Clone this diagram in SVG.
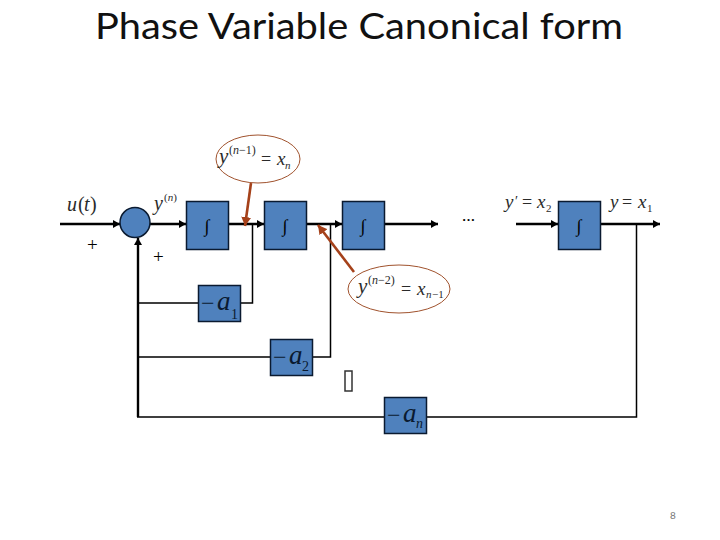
<svg xmlns="http://www.w3.org/2000/svg" width="720" height="540" viewBox="0 0 720 540">
<style>
.b{fill:#4f81bd;stroke:#0a1a30;stroke-width:1.5}
.m{font-family:"Liberation Serif",serif;font-style:italic;fill:#2a2a2a}
.n{font-family:"Liberation Serif",serif;fill:#2a2a2a}
.i{font-family:"Liberation Serif",serif;fill:#000;font-size:18px;text-anchor:middle}
.g{font-family:"Liberation Serif",serif;font-style:italic;fill:#0a1a30}
.gn{font-family:"Liberation Serif",serif;fill:#0a1a30}
.p{font-family:"Liberation Serif",serif;font-size:19px;fill:#000}
.w{fill:none;stroke:#000;stroke-width:2.4}
.t{fill:none;stroke:#000;stroke-width:1.5}
.o{fill:none;stroke:#a0522d;stroke-width:1}
.r{fill:none;stroke:#a5411a;stroke-width:2.6}
</style>
<defs>
<marker id="a" markerUnits="userSpaceOnUse" markerWidth="8" markerHeight="8" refX="7" refY="4" orient="auto"><path d="M0 0L7 4L0 8z" fill="#000"/></marker>
<marker id="ra" markerUnits="userSpaceOnUse" markerWidth="10" markerHeight="10" refX="9" refY="5" orient="auto"><path d="M0 0L9 5L0 10z" fill="#a5411a"/></marker>
</defs>
<text x="359" y="39" font-family="Lato,'Open Sans',sans-serif" font-size="36" text-anchor="middle" textLength="528" lengthAdjust="spacingAndGlyphs" fill="#111">Phase Variable Canonical form</text>
<g id="connectors">
<path class="w" d="M60 224H120" marker-end="url(#a)"/>
<path class="w" d="M150 224H186" marker-end="url(#a)"/>
<path class="w" d="M228 224H264" marker-end="url(#a)"/>
<path class="w" d="M306 224H342" marker-end="url(#a)"/>
<path class="w" d="M385 224H438" marker-end="url(#a)"/>
<path class="w" d="M516 224H558" marker-end="url(#a)"/>
<path class="w" d="M600 224H660" marker-end="url(#a)"/>
<path class="w" d="M138 417V238" marker-end="url(#a)"/>
<path class="t" d="M252.500 224V303H240M198 303H138"/>
<path class="t" d="M330.500 224V357H312M270 357H138"/>
<path class="t" d="M636.500 224V417H426M384 417H137"/>
<path class="r" d="M251 183L245 226" marker-end="url(#ra)"/>
<path class="r" d="M354 272L318 225" marker-end="url(#ra)"/>
</g>
<g id="sum"><circle class="b" cx="135" cy="222.500" r="15"/></g>
<g id="int1"><rect class="b" x="186.500" y="201.500" width="42" height="48"/><text class="i" x="207" y="232">∫</text></g>
<g id="int2"><rect class="b" x="264.500" y="201.500" width="42" height="48"/><text class="i" x="285" y="232">∫</text></g>
<g id="int3"><rect class="b" x="342.500" y="201.500" width="42" height="48"/><text class="i" x="363" y="232">∫</text></g>
<g id="int4"><rect class="b" x="558.500" y="201.500" width="42" height="48"/><text class="i" x="579" y="232">∫</text></g>
<g id="a1"><rect class="b" x="198.500" y="285.500" width="42" height="36"/><text x="201" y="311" class="gn" font-size="24">−</text><text x="217" y="310" class="g" font-size="27">a</text><text x="231" y="319" class="gn" font-size="14">1</text></g>
<g id="a2"><rect class="b" x="270.500" y="339.500" width="42" height="36"/><text x="273" y="365" class="gn" font-size="24">−</text><text x="289" y="364" class="g" font-size="27">a</text><text x="302" y="370.500" class="gn" font-size="14">2</text></g>
<g id="an"><rect class="b" x="384.500" y="397.500" width="42" height="36"/><text x="387" y="423" class="gn" font-size="24">−</text><text x="403" y="422" class="g" font-size="27">a</text><text x="416" y="427.500" class="g" font-size="14">n</text></g>
<g id="eq1"><ellipse class="o" cx="258" cy="159" rx="42" ry="24"/><text x="219" y="163" class="m" font-size="21">y</text><text x="229" y="154" class="n" font-size="12">(<tspan class="m">n</tspan>−1)</text><text x="261" y="165" class="n" font-size="18">=</text><text x="277" y="165" class="m" font-size="19">x</text><text x="285" y="169" class="m" font-size="11">n</text></g>
<g id="eq2"><ellipse class="o" cx="399" cy="289" rx="51" ry="24"/><text x="358" y="293" class="m" font-size="21">y</text><text x="368" y="284" class="n" font-size="12">(<tspan class="m">n</tspan>−2)</text><text x="401" y="295" class="n" font-size="18">=</text><text x="417" y="295" class="m" font-size="19">x</text><text x="426" y="298" class="m" font-size="11">n</text><text x="432" y="298" class="n" font-size="11">−1</text></g>
<g id="labels">
<text x="67" y="211" class="m" font-size="20">u</text><text x="78" y="211" class="n" font-size="20">(</text><text x="84" y="211" class="m" font-size="20">t</text><text x="90" y="211" class="n" font-size="20">)</text>
<text x="154" y="210" class="m" font-size="20">y</text><text x="164" y="201" class="n" font-size="11">(<tspan class="m">n</tspan>)</text>
<text x="87" y="250.500" class="p">+</text>
<text x="153" y="262.500" class="p">+</text>
<text x="462" y="221" font-family="Liberation Serif,serif" font-size="13" font-weight="bold" fill="#000">…</text>
<text x="505" y="208" class="m" font-size="19">y</text><text x="515" y="206" class="n" font-size="14">′</text><text x="522" y="208" class="n" font-size="18">=</text><text x="537" y="208" class="m" font-size="19">x</text><text x="546" y="212" class="n" font-size="11">2</text>
<text x="610" y="208" class="m" font-size="19">y</text><text x="622" y="208" class="n" font-size="18">=</text><text x="638" y="208" class="m" font-size="19">x</text><text x="647" y="212" class="n" font-size="11">1</text>
<rect x="345" y="371" width="7" height="20" fill="none" stroke="#333" stroke-width="1.5"/>
<text x="673" y="519" font-family="Lato,sans-serif" font-size="10" fill="#777" text-anchor="middle">8</text>
</g>
</svg>
